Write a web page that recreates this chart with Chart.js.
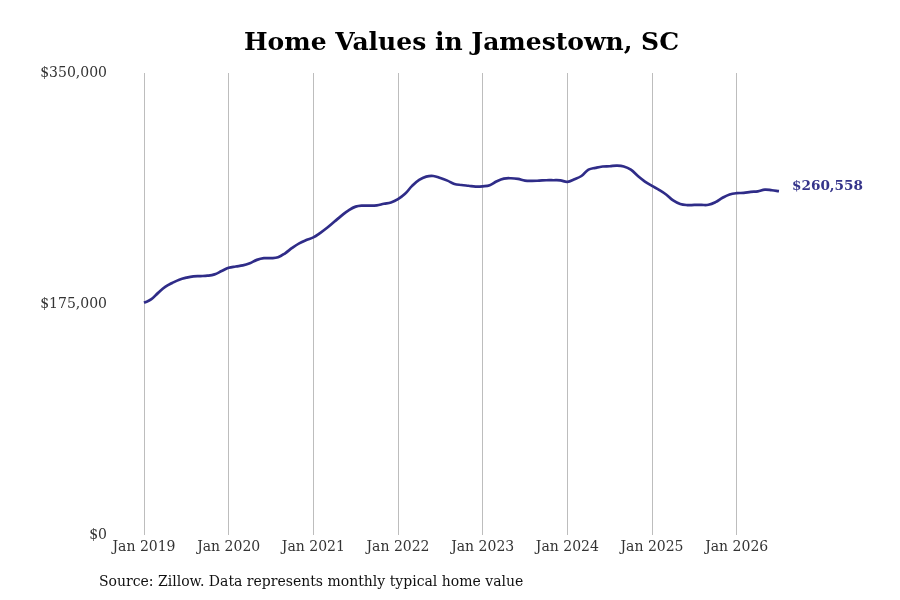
<!DOCTYPE html>
<html>
<head>
<meta charset="utf-8">
<title>Home Values in Jamestown, SC</title>
<script src="https://cdn.jsdelivr.net/npm/chart.js@4.4.1/dist/chart.umd.min.js"></script>
<style>
  html, body { margin: 0; padding: 0; background: #ffffff; }
  #wrap { position: relative; width: 900px; height: 600px; }
  #source {
    position: absolute; left: 99px; top: 573px;
    font-family: 'DejaVu Serif', 'Liberation Serif', serif;
    font-size: 14px; color: #111;
  }
</style>
</head>
<body>
<div id="wrap">
  <canvas id="homeValueChart" width="900" height="600"></canvas>
  <div id="source">Source: Zillow. Data represents monthly typical home value</div>
</div>
<script>
// ---------------------------------------------------------------- DATA ----------------------------------------------------------------
const years = [2019, 2020, 2021, 2022, 2023, 2024, 2025, 2026];
const monthNames = ['Jan', 'Feb', 'Mar', 'Apr', 'May', 'Jun', 'Jul', 'Aug', 'Sep', 'Oct', 'Nov', 'Dec'];

// monthly typical home value, Jan 2019 .. Jul 2026
const homeValues = [
    176000, 178500, 183500, 188000, 191000, 193500, 195000, 196000, 196200, 196500, 197500, 200000,
    202500, 203500, 204300, 206000, 208500, 209800, 209800, 210500, 213500, 217500, 221000, 223500,
    225500, 229000, 233000, 237500, 242000, 246000, 248800, 249600, 249500, 249800, 251000, 252000,
    254500, 258500, 264500, 269000, 271500, 272000, 270500, 268500, 266000, 265200, 264600, 264000,
    264200, 265000, 268000, 270000, 270300, 269800, 268500, 268300, 268500, 268800, 268800, 268700,
    267600, 269500, 272000, 276800, 278200, 279200, 279400, 279800, 279200, 276800, 272000, 267800,
    264500, 261500, 258000, 253500, 250800, 250000, 250100, 250100, 250200, 252200, 255500, 258000,
    259000, 259200, 260000, 260400, 261700, 261200, 260558
];

const yTicks = [0, 175000, 350000];
const lastLabel = '$260,558';

// category labels for every month in the series
const months = [];
years.forEach(y => monthNames.forEach(m => months.push(m + ' ' + y)));
months.length = homeValues.length;

// --------------------------------------------------------------- CHART ----------------------------------------------------------------
const serif = "'DejaVu Serif', 'Liberation Serif', serif";
const lineColor = '#2f2c88';

const endLabelPlugin = {
    id: 'endLabel',
    afterDatasetsDraw(chart) {
        const meta = chart.getDatasetMeta(0);
        const pt = meta.data[meta.data.length - 1];
        const c = chart.ctx;
        c.save();
        c.font = 'bold 13.6px ' + serif;
        c.fillStyle = '#35348a';
        c.textAlign = 'left';
        c.textBaseline = 'middle';
        c.fillText(lastLabel, pt.x + 13, pt.y - 5);
        c.restore();
    }
};

const ctx = document.getElementById('homeValueChart').getContext('2d');
const homeValueChart = new Chart(ctx, {
    type: 'line',
    data: {
        labels: months,
        datasets: [{
            data: homeValues,
            borderColor: lineColor,
            borderWidth: 2.7,
            pointRadius: 0,
            tension: 0.4,
            fill: false
        }]
    },
    options: {
        responsive: false,
        animation: false,
        layout: {
            padding: { left: 0, right: 121, top: 0, bottom: 40 }
        },
        scales: {
            x: {
                afterBuildTicks: scale => {
                    scale.ticks = scale.ticks.filter(t => t.value % 12 === 0);
                },
                ticks: {
                    autoSkip: false,
                    maxRotation: 0,
                    padding: 4,
                    color: '#333333',
                    font: { family: serif, size: 14 }
                },
                grid: {
                    display: true,
                    drawTicks: false,
                    color: '#bdbdbd',
                    lineWidth: 1
                },
                border: { display: false }
            },
            y: {
                min: 0,
                max: 350000,
                afterBuildTicks: scale => {
                    scale.ticks = yTicks.map(v => ({ value: v }));
                },
                afterFit: scale => {
                    scale.width = 144;
                },
                ticks: {
                    padding: 37,
                    color: '#333333',
                    font: { family: serif, size: 14 },
                    callback: v => '$' + v.toLocaleString('en-US')
                },
                grid: { display: false, drawTicks: false },
                border: { display: false }
            }
        },
        plugins: {
            legend: { display: false },
            tooltip: { enabled: false },
            title: {
                display: true,
                text: 'Home Values in Jamestown, SC',
                fullSize: false,
                color: '#000000',
                font: { family: serif, size: 25, weight: 'bold' },
                padding: { top: 28, bottom: 15 }
            }
        }
    },
    plugins: [endLabelPlugin]
});
</script>
</body>
</html>
